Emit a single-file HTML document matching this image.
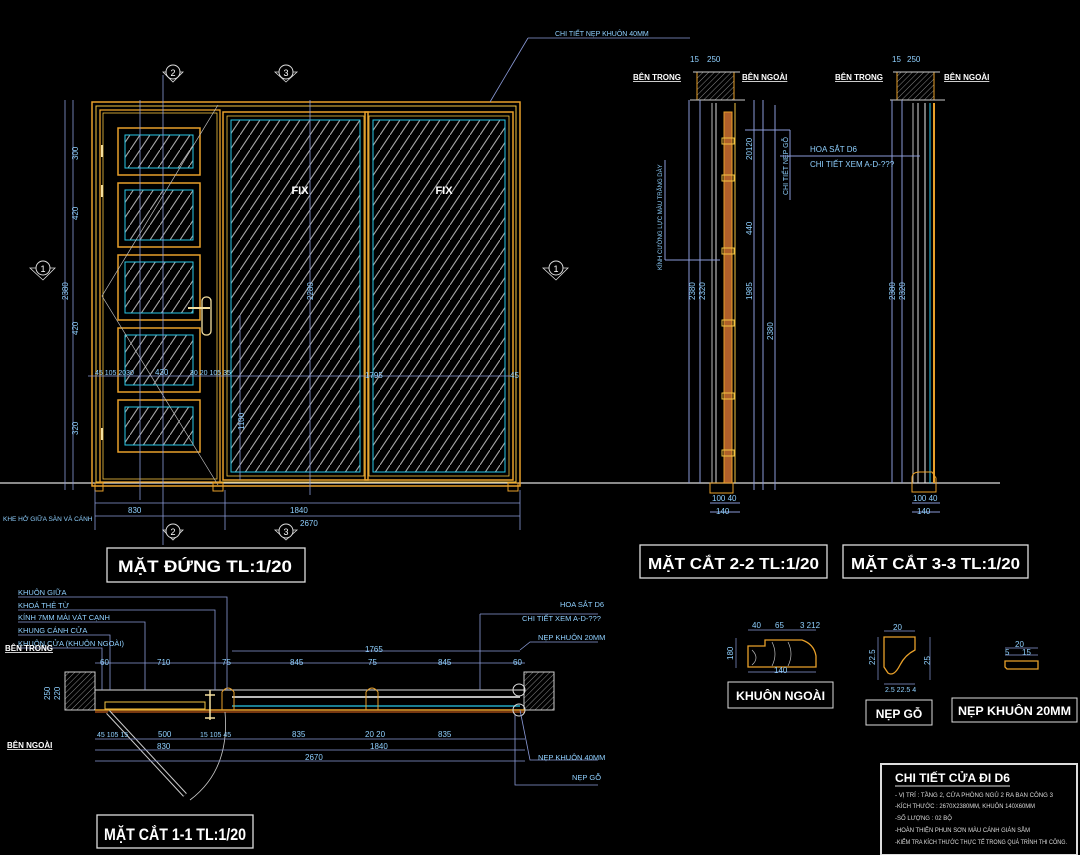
<!DOCTYPE html>
<html><head><meta charset="utf-8">
<style>
html,body{margin:0;padding:0;background:#000;}
svg{display:block;}
text{font-family:"Liberation Sans","DejaVu Sans",sans-serif;}
.d{fill:#8fd0ff;font-size:8px;}
.w{fill:#fff;}
.t{fill:#fff;font-weight:bold;}
</style></head><body>
<svg width="1080" height="855" viewBox="0 0 1080 855" xmlns="http://www.w3.org/2000/svg">
<defs>
<pattern id="h" width="10" height="15" patternUnits="userSpaceOnUse">
<line x1="0" y1="15" x2="10" y2="0" stroke="#a8a8a8" stroke-width="1.1"/>
</pattern>
<pattern id="wh" width="4" height="4" patternUnits="userSpaceOnUse" patternTransform="rotate(45)">
<line x1="0" y1="0" x2="0" y2="4" stroke="#aaa" stroke-width="0.8"/>
</pattern>
</defs>
<rect width="1080" height="855" fill="#000"/>

<line x1="0" y1="483" x2="1000" y2="483" stroke="#ddd" stroke-width="1.2"/>

<!-- ===== ELEVATION ===== -->
<g fill="none">
<rect x="92" y="102" width="428" height="384" stroke="#e8a02a" stroke-width="1.5"/>
<rect x="96" y="106" width="420" height="376" stroke="#f5c542" stroke-width="1"/>
<rect x="100" y="110" width="120" height="372" stroke="#e8a02a" stroke-width="1.3"/>
<rect x="103" y="113" width="114" height="366" stroke="#f5c542" stroke-width="0.8"/>
<g stroke="#e8a02a" stroke-width="1.5">
<rect x="118" y="128" width="82" height="47"/>
<rect x="118" y="183" width="82" height="64"/>
<rect x="118" y="255" width="82" height="65"/>
<rect x="118" y="328" width="82" height="64"/>
<rect x="118" y="400" width="82" height="52"/>
</g>
<g stroke="#28c8e8" stroke-width="1">
<rect x="125" y="135" width="68" height="33" fill="url(#h)"/>
<rect x="125" y="190" width="68" height="50" fill="url(#h)"/>
<rect x="125" y="262" width="68" height="51" fill="url(#h)"/>
<rect x="125" y="335" width="68" height="50" fill="url(#h)"/>
<rect x="125" y="407" width="68" height="38" fill="url(#h)"/>
</g>
<polyline points="218,105 102,296 218,485" stroke="#bbb" stroke-width="0.7"/>
<rect x="223" y="112" width="145" height="368" stroke="#e8a02a" stroke-width="1.5"/>
<rect x="227" y="116" width="137" height="360" stroke="#f5c542" stroke-width="0.8"/>
<rect x="231" y="120" width="129" height="352" stroke="#28c8e8" stroke-width="1" fill="url(#h)"/>
<rect x="365" y="112" width="148" height="368" stroke="#e8a02a" stroke-width="1.5"/>
<rect x="369" y="116" width="140" height="360" stroke="#f5c542" stroke-width="0.8"/>
<rect x="373" y="120" width="132" height="352" stroke="#28c8e8" stroke-width="1" fill="url(#h)"/>
<rect x="95" y="483" width="8" height="8" stroke="#e8a02a"/>
<rect x="213" y="483" width="10" height="8" stroke="#e8a02a"/>
<rect x="508" y="483" width="10" height="8" stroke="#e8a02a"/>
<rect x="202" y="297" width="9" height="38" rx="4" stroke="#f5e0a0" stroke-width="1.3"/>
<line x1="188" y1="308" x2="210" y2="308" stroke="#f5e0a0" stroke-width="2"/>
<g stroke="#f5e0a0" stroke-width="2"><line x1="102" y1="145" x2="102" y2="157"/><line x1="102" y1="185" x2="102" y2="197"/><line x1="102" y1="428" x2="102" y2="440"/></g>
<g stroke="#8a9ad8" stroke-width="0.8">
<line x1="65" y1="100" x2="65" y2="490"/><line x1="73" y1="100" x2="73" y2="490"/>
<line x1="140" y1="100" x2="140" y2="500"/><line x1="310" y1="100" x2="310" y2="495"/>
<line x1="163" y1="75" x2="163" y2="545"/>
<line x1="88" y1="376" x2="510" y2="376"/><line x1="240" y1="315" x2="240" y2="480"/>
<line x1="95" y1="503" x2="520" y2="503"/><line x1="95" y1="516" x2="520" y2="516"/>
<line x1="95" y1="490" x2="95" y2="530"/><line x1="520" y1="490" x2="520" y2="530"/><line x1="225" y1="490" x2="225" y2="530"/>
<line x1="490" y1="102" x2="528" y2="38"/><line x1="528" y1="38" x2="690" y2="38"/>
</g>
<g stroke="#ddd" stroke-width="0.8">
<polygon points="163,72 183,72 173,82"/><polygon points="275,72 297,72 286,82"/>
<polygon points="30,268 55,268 43,280"/><polygon points="543,268 568,268 556,280"/>
<polygon points="163,530 183,530 173,540"/><polygon points="275,530 297,530 286,540"/>
</g>
</g>
<g fill="#000" stroke="#ddd" stroke-width="1"><circle cx="173" cy="72" r="7"/><circle cx="286" cy="72" r="7"/><circle cx="43" cy="268" r="7"/><circle cx="556" cy="268" r="7"/><circle cx="173" cy="531" r="7"/><circle cx="286" cy="531" r="7"/></g>
<g class="w" font-size="9" text-anchor="middle"><text x="173" y="76">2</text><text x="286" y="76">3</text><text x="43" y="272">1</text><text x="556" y="272">1</text><text x="173" y="535">2</text><text x="286" y="535">3</text></g>
<text x="300" y="194" class="t" font-size="11" text-anchor="middle">FIX</text>
<text x="444" y="194" class="t" font-size="11" text-anchor="middle">FIX</text>
<g class="d">
<text x="555" y="36" font-size="7">CHI TIẾT NẸP KHUÔN 40MM</text>
<text transform="translate(68,300) rotate(-90)">2380</text>
<text transform="translate(78,160) rotate(-90)">300</text><text transform="translate(78,220) rotate(-90)">420</text>
<text transform="translate(78,335) rotate(-90)">420</text><text transform="translate(78,435) rotate(-90)">320</text>
<text transform="translate(313,300) rotate(-90)">2280</text>
<text transform="translate(244,430) rotate(-90)">1100</text>
<text x="95" y="375" font-size="7">45 105 2030</text><text x="155" y="375">430</text><text x="190" y="375" font-size="7">30 20 105 35</text>
<text x="365" y="378">1795</text><text x="510" y="378">45</text>
<text x="128" y="513">830</text><text x="290" y="513">1840</text><text x="300" y="526">2670</text>
<text x="3" y="521" font-size="6.5">KHE HỞ GIỮA SÀN VÀ CÁNH</text>
</g>
<rect x="107" y="548" width="198" height="34" fill="none" stroke="#ddd" stroke-width="1.3"/>
<text x="118" y="572" class="t" font-size="17" textLength="174" lengthAdjust="spacingAndGlyphs">MẶT ĐỨNG  TL:1/20</text>

<!-- ===== SECTION 2-2 ===== -->
<g fill="none">
<rect x="697" y="72" width="37" height="28" fill="url(#wh)" stroke="#e8a02a"/>
<line x1="693" y1="72" x2="740" y2="72" stroke="#ccc"/>
<line x1="690" y1="100" x2="745" y2="100" stroke="#ccc"/>
<g stroke-width="1">
<line x1="689" y1="100" x2="689" y2="483" stroke="#8a9ad8"/>
<line x1="700" y1="100" x2="700" y2="483" stroke="#8a9ad8"/>
<line x1="712" y1="103" x2="712" y2="483" stroke="#bbb"/>
<line x1="716" y1="103" x2="716" y2="483" stroke="#ddd"/>
<rect x="724" y="112" width="8" height="371" stroke="#e8a02a" fill="#b0602a"/>
<line x1="735" y1="103" x2="735" y2="483" stroke="#f5c542"/>
<line x1="754" y1="100" x2="754" y2="490" stroke="#8a9ad8"/>
<line x1="763" y1="100" x2="763" y2="490" stroke="#8a9ad8"/>
<line x1="775" y1="105" x2="775" y2="490" stroke="#8a9ad8"/>
</g>
<rect x="710" y="483" width="23" height="10" stroke="#e8a02a"/>
<g stroke="#f5c542"><rect x="722" y="138" width="12" height="6"/><rect x="722" y="175" width="12" height="6"/><rect x="722" y="248" width="12" height="6"/><rect x="722" y="320" width="12" height="6"/><rect x="722" y="393" width="12" height="6"/><rect x="722" y="450" width="12" height="6"/></g>
<line x1="665" y1="260" x2="720" y2="260" stroke="#8a9ad8"/><line x1="665" y1="160" x2="665" y2="260" stroke="#8a9ad8"/>
<line x1="745" y1="130" x2="790" y2="130" stroke="#8a9ad8"/><line x1="790" y1="130" x2="790" y2="200" stroke="#8a9ad8"/>
<line x1="710" y1="503" x2="740" y2="503" stroke="#8a9ad8"/><line x1="710" y1="512" x2="740" y2="512" stroke="#8a9ad8"/>
</g>
<g class="t" font-size="8"><text x="633" y="80" text-decoration="underline">BÊN TRONG</text><text x="742" y="80" text-decoration="underline">BÊN NGOÀI</text></g>
<g class="d"><text x="690" y="62">15</text><text x="707" y="62">250</text>
<text transform="translate(695,300) rotate(-90)">2380</text><text transform="translate(705,300) rotate(-90)">2320</text>
<text transform="translate(752,300) rotate(-90)">1985</text><text transform="translate(773,340) rotate(-90)">2380</text>
<text transform="translate(752,160) rotate(-90)">20120</text><text transform="translate(752,235) rotate(-90)">440</text>
<text transform="translate(788,195) rotate(-90)" font-size="7">CHI TIẾT NẸP GỖ</text>
<text transform="translate(662,270) rotate(-90)" font-size="6">KÍNH CƯỜNG LỰC MÀU TRẮNG DÀY</text>
<text x="712" y="501">100 40</text><text x="716" y="514">140</text></g>
<rect x="640" y="545" width="187" height="33" fill="none" stroke="#ddd" stroke-width="1.3"/>
<text x="648" y="569" class="t" font-size="16" textLength="171" lengthAdjust="spacingAndGlyphs">MẶT CẮT 2-2  TL:1/20</text>

<!-- ===== SECTION 3-3 ===== -->
<g fill="none">
<rect x="897" y="72" width="37" height="28" fill="url(#wh)" stroke="#e8a02a"/>
<line x1="893" y1="72" x2="940" y2="72" stroke="#ccc"/>
<line x1="890" y1="100" x2="945" y2="100" stroke="#ccc"/>
<line x1="892" y1="100" x2="892" y2="483" stroke="#8a9ad8"/>
<line x1="902" y1="100" x2="902" y2="483" stroke="#8a9ad8"/>
<line x1="913" y1="103" x2="913" y2="483" stroke="#bbb"/>
<line x1="918" y1="103" x2="918" y2="483" stroke="#ddd"/>
<line x1="925" y1="103" x2="925" y2="483" stroke="#eee"/>
<line x1="930" y1="103" x2="930" y2="483" stroke="#28c8e8"/>
<line x1="934" y1="103" x2="934" y2="483" stroke="#e8a02a" stroke-width="2"/>
<path d="M912,492 V478 Q912,472 920,472 H932 L936,478 V492 Z" stroke="#e8a02a"/>
<line x1="780" y1="156" x2="920" y2="156" stroke="#8a9ad8"/>
<line x1="912" y1="503" x2="940" y2="503" stroke="#8a9ad8"/><line x1="912" y1="512" x2="940" y2="512" stroke="#8a9ad8"/>
</g>
<g class="t" font-size="8"><text x="835" y="80" text-decoration="underline">BÊN TRONG</text><text x="944" y="80" text-decoration="underline">BÊN NGOÀI</text></g>
<g class="d"><text x="892" y="62">15</text><text x="907" y="62">250</text>
<text x="810" y="152">HOA SẮT D6</text><text x="810" y="167">CHI TIẾT XEM A-D-???</text>
<text transform="translate(895,300) rotate(-90)">2380</text><text transform="translate(905,300) rotate(-90)">2320</text>
<text x="913" y="501">100 40</text><text x="917" y="514">140</text></g>
<rect x="843" y="545" width="185" height="33" fill="none" stroke="#ddd" stroke-width="1.3"/>
<text x="851" y="569" class="t" font-size="16" textLength="169" lengthAdjust="spacingAndGlyphs">MẶT CẮT 3-3  TL:1/20</text>

<!-- ===== SECTION 1-1 ===== -->
<g fill="none">
<rect x="65" y="672" width="30" height="38" fill="url(#wh)" stroke="#ccc"/>
<rect x="524" y="672" width="30" height="38" fill="url(#wh)" stroke="#ccc"/>
<line x1="95" y1="690" x2="525" y2="690" stroke="#ddd"/>
<line x1="232" y1="697" x2="520" y2="697" stroke="#bbb" stroke-width="2"/>
<line x1="232" y1="706" x2="520" y2="706" stroke="#28c8e8" stroke-width="1.3"/>
<line x1="95" y1="710" x2="525" y2="710" stroke="#e8a02a" stroke-width="1.5"/>
<rect x="105" y="702" width="100" height="7" stroke="#f5c542"/>
<line x1="95" y1="712" x2="525" y2="712" stroke="#f07020"/>
<path d="M222,710 V692 Q228,684 234,692 V710" stroke="#e8a02a"/><path d="M366,710 V692 Q372,684 378,692 V710" stroke="#e8a02a"/>
<g stroke="#f5e0a0" stroke-width="1.5"><path d="M205,695 h10 M210,690 v30 M205,718 h10"/></g>
<path d="M108,712 L185,795" stroke="#ccc" stroke-width="5"/><path d="M108,712 L185,795" stroke="#000" stroke-width="3"/>
<path d="M225,712 Q230,770 190,800" stroke="#ccc" stroke-width="0.8"/>
<circle cx="519" cy="690" r="6" stroke="#ddd"/><circle cx="519" cy="710" r="6" stroke="#ddd"/>
<g stroke="#8a9ad8" stroke-width="0.8">
<line x1="95" y1="663" x2="525" y2="663"/><line x1="232" y1="651" x2="520" y2="651"/>
<line x1="95" y1="739" x2="525" y2="739"/><line x1="95" y1="750" x2="525" y2="750"/><line x1="95" y1="761" x2="525" y2="761"/>
<path d="M18,597 H227 V690 M18,610 H215 V690 M18,622 H145 V690 M18,635 H110 V690 M18,648 H102 V690"/>
<path d="M480,614 H598 M480,614 V690 M520,650 L530,642 H598 M520,710 L530,760 H598 M515,715 V785 H598"/>
</g>
</g>
<g class="d" font-size="8">
<text x="18" y="595" font-size="7.5">KHUÔN GIỮA</text><text x="18" y="608" font-size="7.5">KHOÁ THẺ TỪ</text><text x="18" y="620" font-size="7.5">KÍNH 7MM MÀI VÁT CẠNH</text><text x="18" y="633" font-size="7.5">KHUNG CÁNH CỬA</text><text x="18" y="646" font-size="7.5">KHUÔN CỬA (KHUÔN NGOÀI)</text>
<text x="560" y="607" font-size="7.5">HOA SẮT D6</text><text x="522" y="621" font-size="7.5">CHI TIẾT XEM A-D-???</text><text x="538" y="640" font-size="7.5">NẸP KHUÔN 20MM</text>
<text x="538" y="760" font-size="7.5">NẸP KHUÔN 40MM</text><text x="572" y="780" font-size="7.5">NẸP GỖ</text>
<text x="100" y="665">60</text><text x="157" y="665">710</text><text x="222" y="665">75</text><text x="290" y="665">845</text><text x="368" y="665">75</text><text x="438" y="665">845</text><text x="513" y="665">60</text><text x="365" y="652">1765</text>
<text x="97" y="737" font-size="7">45 105 15</text><text x="158" y="737">500</text><text x="200" y="737" font-size="7">15 105 45</text><text x="292" y="737">835</text><text x="365" y="737">20 20</text><text x="438" y="737">835</text>
<text x="157" y="749">830</text><text x="370" y="749">1840</text><text x="305" y="760">2670</text>
<text transform="translate(50,700) rotate(-90)">250</text><text transform="translate(60,700) rotate(-90)">220</text>
</g>
<g class="t" font-size="8"><text x="5" y="651" text-decoration="underline">BÊN TRONG</text><text x="7" y="748" text-decoration="underline">BÊN NGOÀI</text></g>
<rect x="97" y="815" width="156" height="33" fill="none" stroke="#ddd" stroke-width="1.3"/>
<text x="104" y="840" class="t" font-size="17" textLength="142" lengthAdjust="spacingAndGlyphs">MẶT CẮT 1-1  TL:1/20</text>

<!-- ===== DETAILS ===== -->
<path d="M748,667 V646 H765 V640 H802 Q814,644 816,656 V667 Z" fill="none" stroke="#e8a02a" stroke-width="1.3"/>
<g stroke="#bbb" fill="none" stroke-width="0.7"><path d="M752,650 q8,8 0,15"/><path d="M772,642 q6,12 0,24"/><path d="M788,642 q6,12 0,24"/></g>
<g stroke="#8a9ad8" stroke-width="0.7"><line x1="748" y1="630" x2="816" y2="630"/><line x1="748" y1="672" x2="816" y2="672"/><line x1="736" y1="638" x2="736" y2="668"/></g>
<g class="d"><text x="752" y="628">40</text><text x="775" y="628">65</text><text x="800" y="628">3 212</text><text x="774" y="673">140</text><text transform="translate(733,660) rotate(-90)">180</text></g>
<rect x="728" y="682" width="105" height="26" fill="none" stroke="#ddd"/>
<text x="736" y="700" class="t" font-size="12" textLength="89" lengthAdjust="spacingAndGlyphs">KHUÔN NGOÀI</text>
<path d="M884,637 H915 V650 Q905,655 900,665 Q894,677 888,673 L884,667 Z" fill="none" stroke="#e8a02a" stroke-width="1.3"/>
<g stroke="#8a9ad8" stroke-width="0.7"><line x1="884" y1="631" x2="915" y2="631"/><line x1="884" y1="684" x2="915" y2="684"/><line x1="878" y1="637" x2="878" y2="680"/><line x1="930" y1="637" x2="930" y2="680"/></g>
<g class="d"><text x="893" y="630">20</text><text x="885" y="692" font-size="7">2.5 22.5 4</text><text transform="translate(875,665) rotate(-90)">22.5</text><text transform="translate(930,665) rotate(-90)">25</text></g>
<rect x="866" y="700" width="66" height="25" fill="none" stroke="#ddd"/>
<text x="899" y="718" class="t" font-size="12" text-anchor="middle">NẸP GỖ</text>
<path d="M1005,661 H1038 V669 H1007 L1005,667 Z" fill="none" stroke="#e8a02a" stroke-width="1.3"/>
<g stroke="#8a9ad8" stroke-width="0.7"><line x1="1005" y1="648" x2="1038" y2="648"/><line x1="1005" y1="655" x2="1038" y2="655"/></g>
<g class="d"><text x="1015" y="647">20</text><text x="1005" y="655">5</text><text x="1022" y="655">15</text></g>
<rect x="952" y="698" width="125" height="24" fill="none" stroke="#ddd"/>
<text x="958" y="715" class="t" font-size="12" textLength="113" lengthAdjust="spacingAndGlyphs">NẸP KHUÔN 20MM</text>

<!-- legend -->
<rect x="881" y="764" width="196" height="91" fill="none" stroke="#ddd" stroke-width="2"/>
<text x="895" y="782" class="t" font-size="12" textLength="115" lengthAdjust="spacingAndGlyphs">CHI TIẾT CỬA ĐI D6</text>
<line x1="895" y1="786" x2="1010" y2="786" stroke="#ddd"/>
<g fill="#ddd" font-size="6"><text x="895" y="797" textLength="158" lengthAdjust="spacingAndGlyphs">- VỊ TRÍ : TẦNG 2, CỬA PHÒNG NGỦ 2 RA BAN CÔNG 3</text><text x="895" y="808" textLength="140" lengthAdjust="spacingAndGlyphs">-KÍCH THƯỚC : 2670X2380MM, KHUÔN 140X60MM</text><text x="895" y="820">-SỐ LƯỢNG : 02 BỘ</text><text x="895" y="832" textLength="135" lengthAdjust="spacingAndGlyphs">-HOÀN THIỆN PHUN SƠN MÀU CÁNH GIÁN SẪM</text><text x="895" y="844" textLength="172" lengthAdjust="spacingAndGlyphs">-KIỂM TRA KÍCH THƯỚC THỰC TẾ TRONG QUÁ TRÌNH THI CÔNG.</text></g>
</svg>
</body></html>
